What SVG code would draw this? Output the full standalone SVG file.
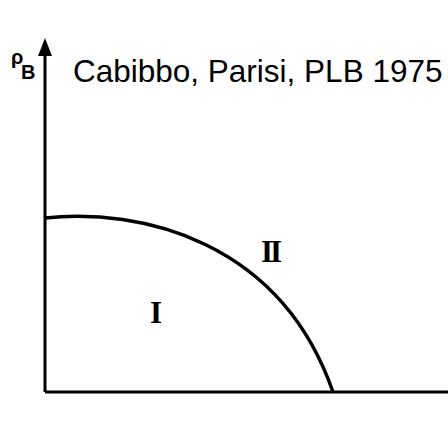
<svg xmlns="http://www.w3.org/2000/svg" width="448" height="428" viewBox="0 0 448 428">
<style>
.ax{stroke:#000;stroke-width:3;fill:none}
.cv{stroke:#000;stroke-width:3.5;fill:none}
.rn{font-family:"Liberation Serif",serif;font-weight:bold;fill:#000}
</style>
<defs>
<marker id="ah" viewBox="0 0 18 14" refX="0" refY="7" markerWidth="18" markerHeight="14" markerUnits="userSpaceOnUse" orient="auto">
<path d="M0,0 L18,7 L0,14 Z" fill="#000"/>
</marker>
</defs>
<rect width="448" height="428" fill="#fff"/>
<g id="connectors">
<path class="ax" d="M45,392 L45,56" marker-end="url(#ah)"/>
<path class="ax" d="M45,392 L448,392"/>
<path class="cv" d="M45,218 C140,208 280,240 333,392"/>
</g>
<g id="axis-label">
<text x="11" y="64" font-family="Liberation Sans, sans-serif" font-size="20" font-weight="bold">ρ</text>
<text x="21" y="79" font-family="Liberation Sans, sans-serif" font-size="20" font-weight="bold">B</text>
</g>
<g id="title">
<text x="73" y="82" font-family="Liberation Sans, sans-serif" font-size="31.5" fill="#000">Cabibbo, Parisi, PLB 1975</text>
</g>
<g id="region-I">
<text class="rn" x="156" y="323" font-size="31" text-anchor="middle">I</text>
</g>
<g id="region-II">
<text class="rn" x="270" y="262" font-size="31" text-anchor="middle" letter-spacing="-3">II</text>
</g>
</svg>
